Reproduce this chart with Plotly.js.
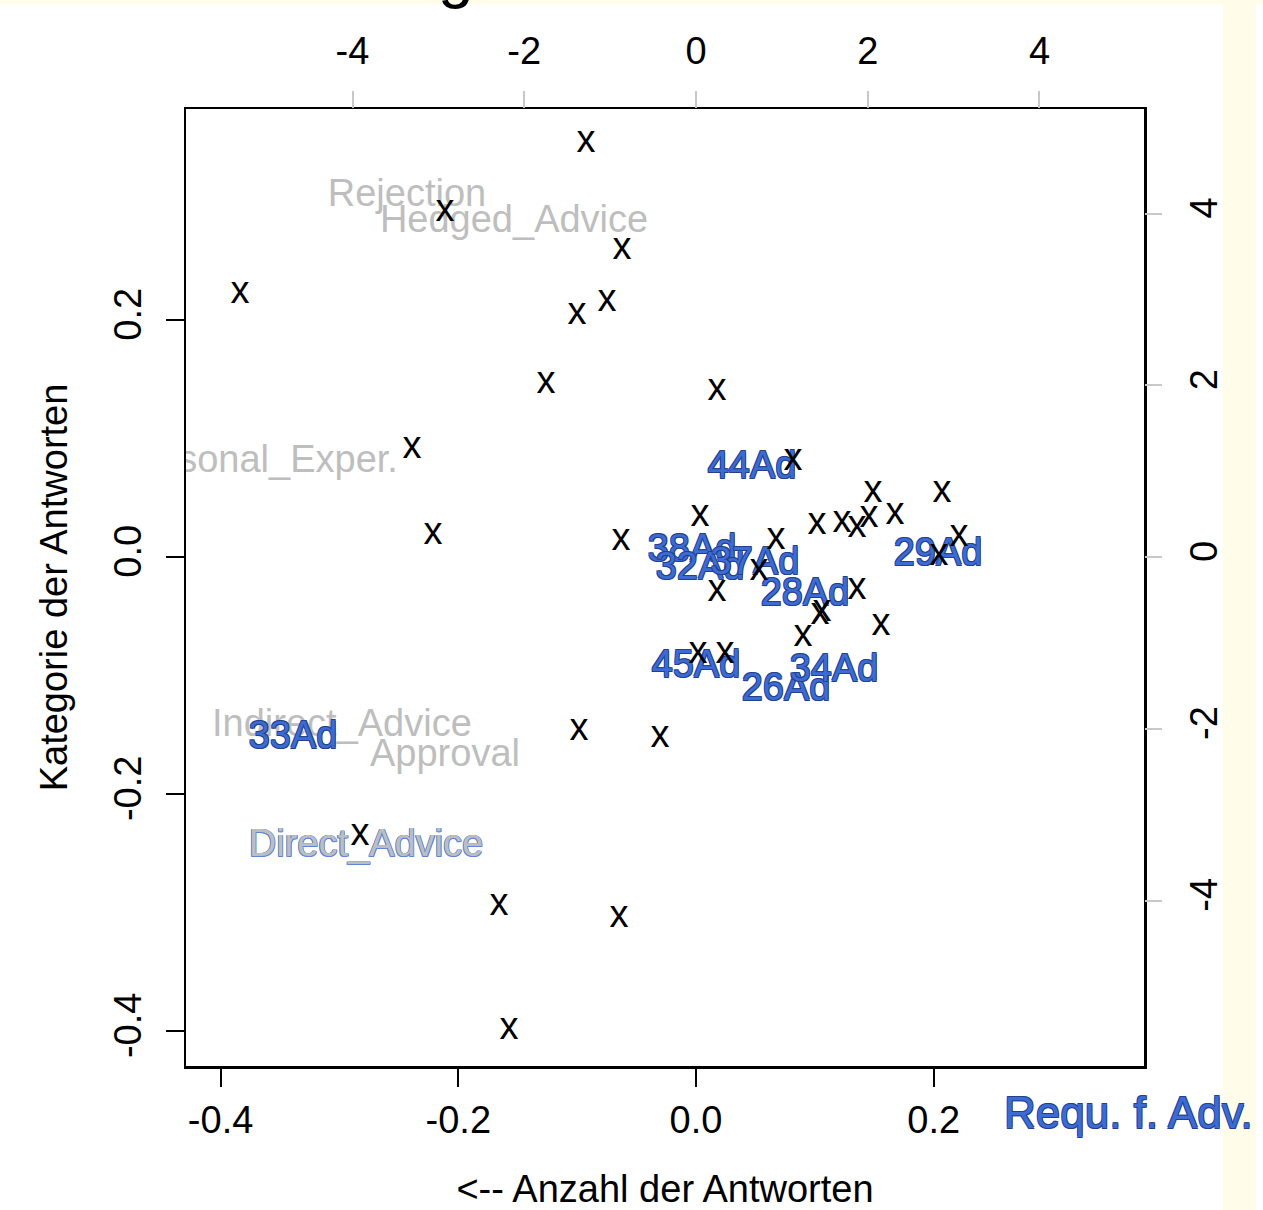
<!DOCTYPE html>
<html>
<head>
<meta charset="utf-8">
<script src="https://cdn.plot.ly/plotly-3.0.1.min.js"></script>
<style>
  html, body { margin: 0; padding: 0; }
  body { width: 1263px; height: 1210px; background: #FFFDEA; position: relative; overflow: hidden; }
  #w1 { position: absolute; left: 0; top: 4px; width: 1223px; height: 1206px; background: #ffffff; }
  #w2 { position: absolute; left: 1256px; top: 4px; width: 7px; height: 1206px; background: #ffffff; }
  #ttl { position: absolute; left: 438px; top: -58px; font-family: "Liberation Sans", Arial, sans-serif; font-size: 64px; line-height: 1; color: #000; }
  #chart { position: absolute; left: 0; top: 0; width: 1263px; height: 1210px; }
</style>
</head>
<body>
<div id="w1"></div>
<div id="w2"></div>
<div id="ttl">g</div>
<div id="chart"></div>
<script>
// Row points (drawn as "x")
const rowX = [-0.0926, -0.2112, -0.0623, -0.3837, -0.0749, -0.1001, -0.1262, 0.0177, -0.2390, 0.0816,
              0.1489, 0.2070, 0.0034, 0.1018, 0.1228, 0.1355, 0.1456, 0.1674, -0.0631, 0.0673,
              0.2213, 0.2045, 0.0530, 0.0177, 0.1355, 0.1043, 0.1060, 0.1557, 0.0900, 0.0017,
              0.0244, -0.2213, -0.0984, -0.0303, -0.2827, -0.1658, -0.0648, -0.1573];
const rowY = [0.3494, 0.2912, 0.2591, 0.2220, 0.2152, 0.2042, 0.1460, 0.1409, 0.0912, 0.0810,
              0.0540, 0.0540, 0.0338, 0.0270, 0.0287, 0.0253, 0.0329, 0.0355, 0.0135, 0.0144,
              0.0169, 0.0009, -0.0118, -0.0287, -0.0278, -0.0489, -0.0456, -0.0574, -0.0675, -0.0818,
              -0.0818, 0.0186, -0.1460, -0.1519, -0.2346, -0.2937, -0.3038, -0.3991];

// Highlighted row labels (blue)
const labText = ["44Ad", "38Ad", "32Ad", "37Ad", "28Ad", "29Ad", "45Ad", "26Ad", "34Ad", "33Ad"];
const labX = [0.0471, -0.0034, 0.0034, 0.0496, 0.0917, 0.2036, 0.0000, 0.0757, 0.1161, -0.3391];
const labY = [0.0745, 0.0044, -0.0108, -0.0065, -0.0327, 0.0011, -0.0935, -0.1129, -0.0968, -0.1534];

// Highlighted column label lying below the plot frame (y given as fraction of plot height)
const reqText = ["Requ. f. Adv."];
const reqX = [0.3635];
const reqYFrac = [-0.0481];

// Column labels (gray)
const colText = ["Rejection", "Hedged_Advice", "Personal_Exper.", "Indirect_Advice", "Approval"];
const colX = [-0.2432, -0.1531, -0.3681, -0.2979, -0.2112];
const colY = [0.3045, 0.2826, 0.0800, -0.1427, -0.1681];

// Highlighted column label
const hiText = ["Direct_Advice"];
const hiX = [-0.2777];
const hiY = [-0.2447];

// Axis ticks
const xTickVals = [-0.4, -0.2, 0.0, 0.2];
const xTickText = ["-0.4", "-0.2", "0.0", "0.2"];
const yTickVals = [-0.4, -0.2, 0.0, 0.2];
const yTickText = ["-0.4", "-0.2", "0.0", "0.2"];
const topTickVals = [-4, -2, 0, 2, 4];
const topTickText = ["-4", "-2", "0", "2", "4"];
const rightTickVals = [-4, -2, 0, 2, 4];
const rightTickText = ["-4", "-2", "0", "2", "4"];

const FONT = '"Liberation Sans", Arial, Helvetica, sans-serif';
const OC = '#243f8c';
const blueOutline = `-0.8px -0.8px 0 ${OC}, 0.8px -0.8px 0 ${OC}, -0.8px 0.8px 0 ${OC}, 0.8px 0.8px 0 ${OC}`;
const LC = '#5b86dc';
const lightBlueOutline = `-0.8px -0.8px 0 ${LC}, 0.8px -0.8px 0 ${LC}, -0.8px 0.8px 0 ${LC}, 0.8px 0.8px 0 ${LC}`;
const blueFont = { family: FONT, size: 38, color: '#3B6BD3', shadow: blueOutline };
const blueFontBig = { family: FONT, size: 44, color: '#3B6BD3', shadow: blueOutline };

const traces = [
  { type: 'scatter', mode: 'text', x: colX, y: colY, text: colText,
    textposition: 'middle center', cliponaxis: true, hoverinfo: 'skip',
    textfont: { family: FONT, size: 38, color: '#BEBEBE' } },
  { type: 'scatter', mode: 'text', x: hiX, y: hiY, text: hiText,
    textposition: 'middle center', cliponaxis: true, hoverinfo: 'skip',
    textfont: { family: FONT, size: 38, color: '#BEBEBE', shadow: lightBlueOutline } },
  { type: 'scatter', mode: 'text', x: labX, y: labY, text: labText,
    textposition: 'middle center', cliponaxis: true, hoverinfo: 'skip',
    textfont: blueFont },
  { type: 'scatter', mode: 'text', x: rowX, y: rowY, text: rowX.map(() => 'x'),
    textposition: 'middle center', cliponaxis: true, hoverinfo: 'skip',
    textfont: { family: FONT, size: 38, color: '#000000' } },
  { type: 'scatter', mode: 'markers', x: [], y: [], xaxis: 'x2', yaxis: 'y2',
    hoverinfo: 'skip', showlegend: false }
];

const annotations = reqText.map((t, i) => ({
  text: t, x: reqX[i], y: reqYFrac[i], xref: 'x', yref: 'paper',
  xanchor: 'center', yanchor: 'middle', showarrow: false,
  font: blueFontBig
}));

const layout = {
  width: 1263, height: 1210,
  margin: { l: 186, r: 119, t: 109, b: 144, pad: 0 },
  paper_bgcolor: 'rgba(0,0,0,0)',
  plot_bgcolor: '#ffffff',
  showlegend: false,
  font: { family: FONT, size: 38, color: '#000' },
  annotations: annotations,
  xaxis: {
    range: [-0.4291, 0.3769], autorange: false,
    tickmode: 'array', tickvals: xTickVals, ticktext: xTickText,
    ticks: 'outside', ticklen: 18, tickwidth: 2, tickcolor: '#000',
    showgrid: false, zeroline: false,
    showline: true, mirror: true, linecolor: '#000', linewidth: 2.5,
    tickfont: { family: FONT, size: 38, color: '#000' },
    ticklabelstandoff: 1,
    title: { text: '<-- Anzahl der Antworten', font: { family: FONT, size: 38, color: '#000' }, standoff: 51 }
  },
  yaxis: {
    range: [-0.4295, 0.378], autorange: false,
    tickmode: 'array', tickvals: yTickVals, ticktext: yTickText,
    ticks: 'outside', ticklen: 18, tickwidth: 2, tickcolor: '#000',
    tickangle: -90,
    showgrid: false, zeroline: false,
    showline: true, mirror: true, linecolor: '#000', linewidth: 2.5,
    tickfont: { family: FONT, size: 38, color: '#000' },
    ticklabelstandoff: 9,
    title: { text: 'Kategorie der Antworten', font: { family: FONT, size: 38, color: '#000' }, standoff: 28 }
  },
  xaxis2: {
    overlaying: 'x', side: 'top', anchor: 'y2',
    range: [-5.939, 5.217], autorange: false,
    tickmode: 'array', tickvals: topTickVals, ticktext: topTickText,
    ticks: 'outside', ticklen: 17, tickwidth: 2, tickcolor: '#C8C8C8',
    showgrid: false, zeroline: false, showline: false,
    tickfont: { family: FONT, size: 38, color: '#000' },
    ticklabelstandoff: 12
  },
  yaxis2: {
    overlaying: 'y', side: 'right', anchor: 'x2',
    range: [-5.927, 5.217], autorange: false,
    tickmode: 'array', tickvals: rightTickVals, ticktext: rightTickText,
    ticks: 'outside', ticklen: 17, tickwidth: 2, tickcolor: '#C8C8C8',
    tickangle: -90,
    showgrid: false, zeroline: false, showline: false,
    tickfont: { family: FONT, size: 38, color: '#000' },
    ticklabelstandoff: 9
  }
};

Plotly.newPlot('chart', traces, layout, { staticPlot: true, displayModeBar: false });
</script>
</body>
</html>
